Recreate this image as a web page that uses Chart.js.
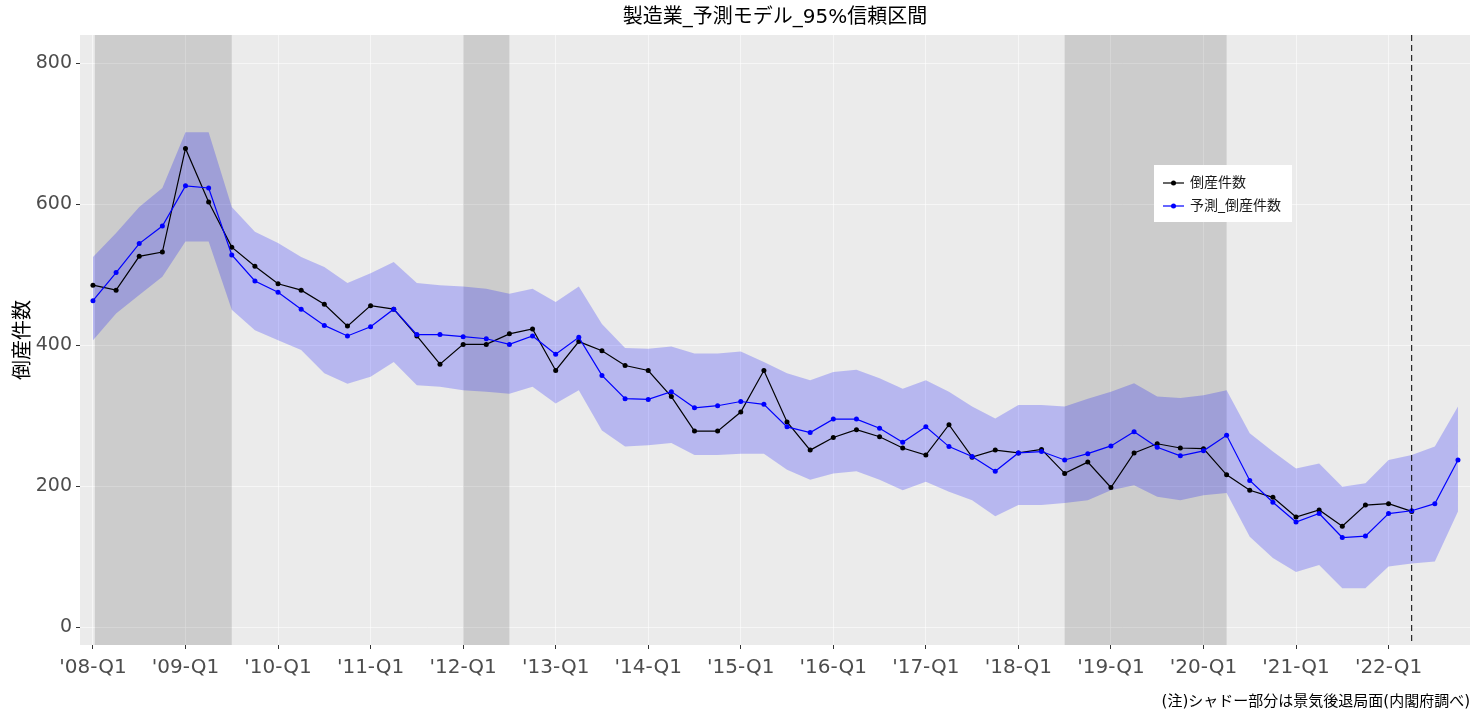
<!DOCTYPE html>
<html lang="ja">
<head>
<meta charset="utf-8">
<title>製造業_予測モデル_95%信頼区間</title>
<script src="https://cdn.jsdelivr.net/npm/chart.js@4.4.1/dist/chart.umd.min.js"></script>
<style>
  html, body { margin: 0; padding: 0; background: #ffffff; }
  canvas { display: block; }
</style>
</head>
<body>
<canvas id="myChart" width="1474" height="715"></canvas>
<script>
(function(){

	"use strict";

// Data (quarterly, '08-Q1 .. '22-Q4)
	const tickLabels = ["'08-Q1", "'09-Q1", "'10-Q1", "'11-Q1", "'12-Q1", "'13-Q1", "'14-Q1", "'15-Q1",
		"'16-Q1", "'17-Q1", "'18-Q1", "'19-Q1", "'20-Q1", "'21-Q1", "'22-Q1"];

	// 倒産件数 (actual, ends at '22-Q2)
	const actual = [485, 478, 526, 532, 679, 603, 539, 512, 487, 478,
		458, 427, 456, 451, 413, 373, 401, 401, 416, 423,
		364, 405, 392, 371, 364, 327, 278, 278, 305, 364,
		291, 251, 269, 280, 270, 254, 244, 287, 241, 251,
		247, 252, 218, 234, 198, 247, 260, 254, 253, 216,
		194, 184, 156, 166, 143, 173, 175, 164];

	// 予測_倒産件数
	const predicted = [463, 503, 544, 569, 626, 623, 528, 491, 475, 451,
		428, 413, 426, 451, 415, 415, 412, 409, 401, 413,
		387, 411, 357, 324, 323, 334, 311, 314, 320, 316,
		284, 276, 295, 295, 282, 262, 284, 256, 242, 221,
		247, 249, 237, 246, 257, 277, 255, 243, 250, 272,
		208, 177, 149, 161, 127, 129, 161, 165, 175, 237];

	// 95% interval
	const upper = [525, 559, 596, 623, 702, 702, 596, 561, 545, 525,
		511, 488, 502, 518, 488, 485, 483, 480, 473, 480,
		461, 483, 430, 396, 395, 398, 388, 388, 391, 376,
		360, 350, 362, 365, 353, 338, 350, 334, 313, 296,
		315, 315, 313, 324, 334, 346, 327, 325, 329, 336,
		275, 249, 225, 232, 199, 204, 237, 244, 256, 313];

	const lower = [407, 445, 471, 497, 547, 547, 450, 421, 407, 393,
		360, 345, 355, 376, 343, 341, 336, 334, 331, 341,
		317, 336, 279, 256, 258, 261, 244, 244, 246, 246,
		223, 209, 218, 221, 209, 194, 206, 192, 180, 157,
		173, 173, 176, 180, 194, 201, 185, 180, 187, 190,
		128, 98, 78, 88, 55, 55, 86, 90, 93, 164];

	// recession periods (quarter index from '08-Q1)
	const recessions = [[0.08, 6], [16, 18], [42, 49]];
	const forecastStart = 57;   // '22-Q2

	const FONT = '"DejaVu Sans", "Noto Sans CJK JP", sans-serif';

	function toPoints(arr){
		return arr.map(function(v, i){ return {x: i, y: v}; });
	}

// Panel background, shading, dashed line and legend
	const panelPlugin = {
		id: "panel",
		beforeDraw: function(chart){
			const ctx = chart.ctx;
			const a = chart.chartArea;
			ctx.save();
			ctx.fillStyle = "#ffffff";
			ctx.fillRect(0, 0, chart.width, chart.height);
			ctx.fillStyle = "#EBEBEB";
			ctx.fillRect(a.left, a.top, a.right - a.left, a.bottom - a.top);
			ctx.restore();
		},
		beforeDatasetsDraw: function(chart){
			const ctx = chart.ctx;
			const a = chart.chartArea;
			const xs = chart.scales.x;
			ctx.save();
			ctx.fillStyle = "rgba(0,0,0,0.13)";
			recessions.forEach(function(r){
				const x0 = xs.getPixelForValue(r[0]);
				const x1 = xs.getPixelForValue(r[1]);
				ctx.fillRect(x0, a.top, x1 - x0, a.bottom - a.top);
			});
			ctx.restore();
		},
		afterDatasetsDraw: function(chart){
			const ctx = chart.ctx;
			const a = chart.chartArea;
			const x = chart.scales.x.getPixelForValue(forecastStart);
			ctx.save();
			ctx.strokeStyle = "#000000";
			ctx.lineWidth = 1;
			ctx.setLineDash([6, 4]);
			ctx.beginPath();
			ctx.moveTo(x, a.top);
			ctx.lineTo(x, a.bottom);
			ctx.stroke();
			ctx.restore();
		},
		afterDraw: function(chart){
			const ctx = chart.ctx;
			const items = [chart.data.datasets[1], chart.data.datasets[0]];
			ctx.save();
			ctx.fillStyle = "#ffffff";
			ctx.fillRect(1154, 165, 138, 57);
			ctx.font = "14px " + FONT;
			ctx.textBaseline = "middle";
			items.forEach(function(ds, k){
				const y = 183 + k * 23;
				ctx.strokeStyle = ds.borderColor;
				ctx.lineWidth = 1.2;
				ctx.beginPath();
				ctx.moveTo(1163, y);
				ctx.lineTo(1184, y);
				ctx.stroke();
				ctx.fillStyle = ds.borderColor;
				ctx.beginPath();
				ctx.arc(1173.5, y, 2.5, 0, Math.PI * 2);
				ctx.fill();
				ctx.fillStyle = "#1a1a1a";
				ctx.fillText(ds.label, 1190, y);
			});
			ctx.restore();
		}
	};

	const data = {
		datasets: [{
			label: "予測_倒産件数",
			data: toPoints(predicted),
			borderColor: "#0000FF",
			backgroundColor: "#0000FF",
			borderWidth: 1.2,
			pointRadius: 2.5,
			pointBorderWidth: 0,
			tension: 0,
			fill: false
		},
		{
			label: "倒産件数",
			data: toPoints(actual),
			borderColor: "#000000",
			backgroundColor: "#000000",
			borderWidth: 1.2,
			pointRadius: 2.5,
			pointBorderWidth: 0,
			tension: 0,
			fill: false
		},
		{
			label: "upper",
			data: toPoints(upper),
			borderWidth: 0,
			pointRadius: 0,
			backgroundColor: "rgba(0,0,255,0.22)",
			borderColor: "rgba(0,0,0,0)",
			tension: 0,
			fill: "+1"
		},
		{
			label: "lower",
			data: toPoints(lower),
			borderWidth: 0,
			pointRadius: 0,
			borderColor: "rgba(0,0,0,0)",
			tension: 0,
			fill: false
		}]
	};

	const config = {
		type: "line",
		data: data,
		plugins: [panelPlugin],
		options: {
			responsive: false,
			animation: false,
			layout: { padding: { left: 0, right: 2, top: 0, bottom: 0 } },
			plugins: {
				legend: { display: false },
				tooltip: { enabled: false },
				title: {
					display: true,
					text: "製造業_予測モデル_95%信頼区間",
					fullSize: false,
					color: "#000000",
					font: { family: FONT, size: 20, weight: "normal" },
					padding: { top: 6, bottom: 5 }
				},
				subtitle: {
					display: true,
					position: "bottom",
					align: "end",
					fullSize: false,
					text: "(注)シャドー部分は景気後退局面(内閣府調べ)",
					color: "#000000",
					font: { family: FONT, size: 15 },
					padding: { top: 0, bottom: 4 }
				}
			},
			scales: {
				x: {
					type: "linear",
					min: -0.56,
					max: 59.52,
					border: { display: false },
					grid: { color: "rgba(255,255,255,0.55)", lineWidth: 1, tickColor: "#333333", tickLength: 4 },
					afterBuildTicks: function(scale){
						scale.ticks = tickLabels.map(function(t, k){ return {value: k * 4}; });
					},
					afterFit: function(scale){ scale.height = 48; },
					ticks: {
						autoSkip: false,
						maxRotation: 0,
						padding: 7,
						color: "#4D4D4D",
						font: { family: FONT, size: 20 },
						callback: function(value){ return tickLabels[Math.round(value / 4)]; }
					}
				},
				y: {
					min: -25.5,
					max: 840,
					border: { display: false },
					grid: { color: "rgba(255,255,255,0.55)", lineWidth: 1, tickColor: "#333333", tickLength: 4 },
					afterBuildTicks: function(scale){
						scale.ticks = [0, 200, 400, 600, 800].map(function(v){ return {value: v}; });
					},
					afterFit: function(scale){ scale.width = 80; },
					ticks: {
						padding: 4,
						color: "#4D4D4D",
						font: { family: FONT, size: 19 }
					},
					title: {
						display: true,
						text: "倒産件数",
						color: "#000000",
						font: { family: FONT, size: 20 },
						padding: { top: 12, bottom: 0 }
					}
				}
			}
		}
	};

	new Chart(document.getElementById("myChart"), config);

})();
</script>
</body>
</html>
